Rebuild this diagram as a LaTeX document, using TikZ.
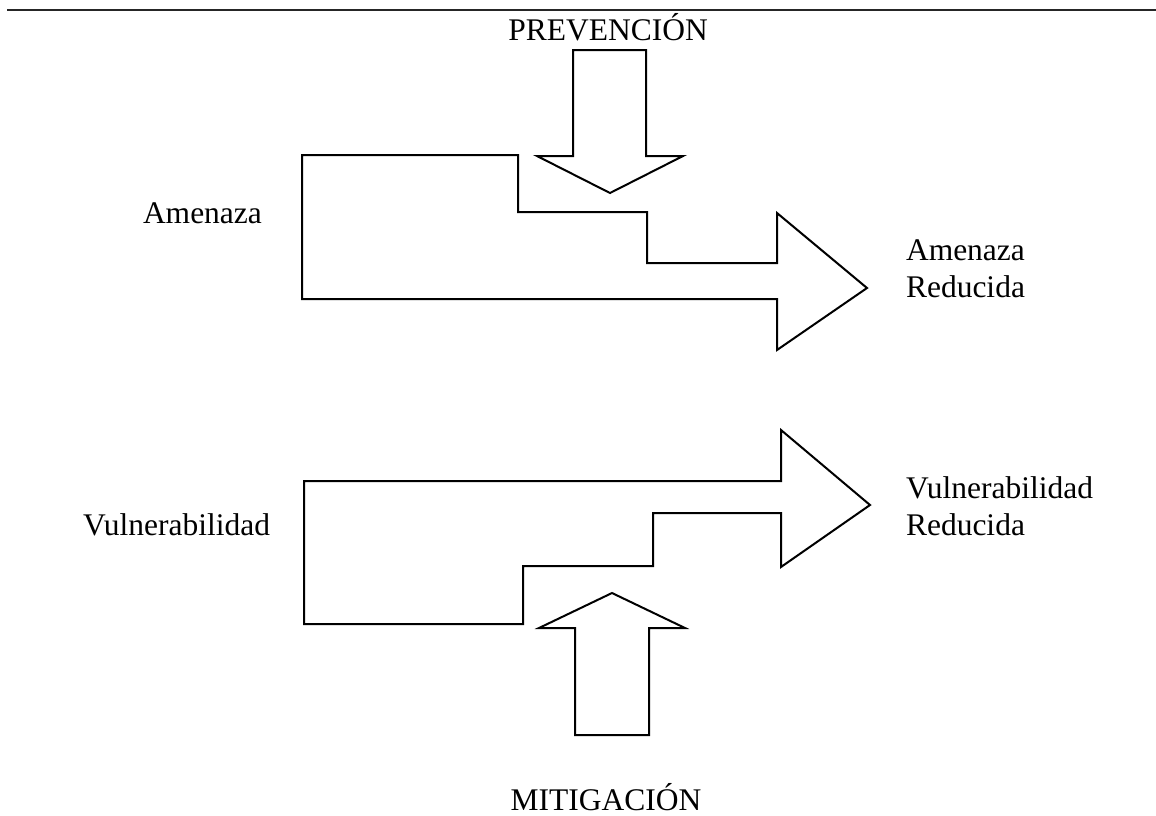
\documentclass[tikz,border=0pt]{standalone}
\usepackage{fontspec}
\setmainfont{Liberation Serif}
\tikzset{
  outline/.style={draw=black, line width=2pt, line join=miter, fill=white},
  lbl/.style={inner sep=0pt, outer sep=0pt, font=\fontsize{31.5}{37}\selectfont},
  rule/.style={draw=black!85, line width=2pt}
}
\begin{document}
\begin{tikzpicture}[x=1pt, y=-1pt]
\useasboundingbox (0,0) rectangle (1156,815);
% top rule
\coordinate (rl) at (7,10);
\coordinate (rr) at (1156,10);
\draw[rule] (rl) -- (rr);
% big top arrow (Amenaza)
\draw[outline] (302,155) -- (518,155) -- (518,212) -- (647,212) -- (647,263)
  -- (777,263) -- (777,213) -- (867,288) -- (777,350) -- (777,299) -- (302,299) -- cycle;
% prevention arrow (down)
\draw[outline] (573,50) -- (646,50) -- (646,156) -- (683,156) -- (610,193)
  -- (537,156) -- (573,156) -- cycle;
% big bottom arrow (Vulnerabilidad)
\draw[outline] (304,481) -- (781,481) -- (781,430) -- (870,505) -- (781,567)
  -- (781,513) -- (653,513) -- (653,566) -- (523,566) -- (523,624) -- (304,624) -- cycle;
% mitigation arrow (up)
\draw[outline] (612,593) -- (685,628) -- (649,628) -- (649,735) -- (575,735)
  -- (575,628) -- (539,628) -- cycle;
% labels
\node[lbl, anchor=base] (prev) at (608,40) {PREVENCIÓN};
\node[lbl, anchor=base] (miti) at (606,810) {MITIGACIÓN};
\node[lbl, anchor=base west] (amen) at (143,223) {Amenaza};
\node[lbl, anchor=base west] (vuln) at (83,535) {Vulnerabilidad};
\node[lbl, anchor=base west] (ar1) at (906,260) {Amenaza};
\node[lbl, anchor=base west] (ar2) at (906,297) {Reducida};
\node[lbl, anchor=base west] (vr1) at (906,498) {Vulnerabilidad};
\node[lbl, anchor=base west] (vr2) at (906,535) {Reducida};
\end{tikzpicture}
\end{document}
